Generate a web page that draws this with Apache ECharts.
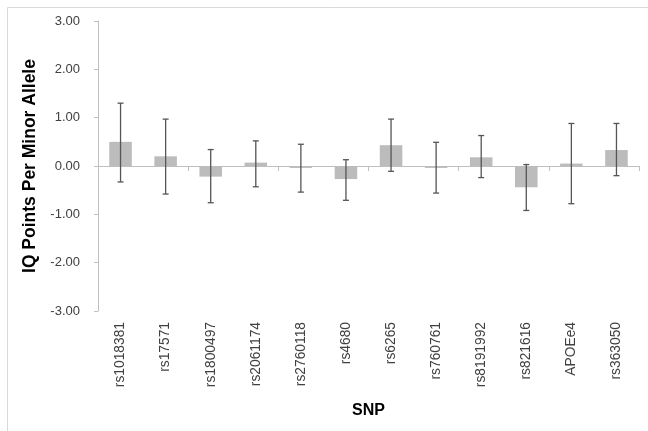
<!DOCTYPE html>
<html>
<head>
<meta charset="utf-8">
<script src="https://cdn.jsdelivr.net/npm/echarts@6/dist/echarts.min.js"></script>
<style>
  html, body { margin: 0; padding: 0; background: #fff; }
  #chart { width: 648px; height: 431px; }
</style>
</head>
<body>
<div id="chart"></div>
<script>
const snps = ['rs1018381', 'rs17571', 'rs1800497', 'rs2061174', 'rs2760118', 'rs4680',
    'rs6265', 'rs760761', 'rs8191992', 'rs821616', 'APOEe4', 'rs363050'];
const effect = [0.50, 0.20, -0.22, 0.07, -0.04, -0.27, 0.43, -0.04, 0.18, -0.44, 0.05, 0.33];
const ciLow = [-0.33, -0.58, -0.76, -0.43, -0.54, -0.71, -0.11, -0.56, -0.24, -0.92, -0.78, -0.20];
const ciHigh = [1.30, 0.97, 0.34, 0.52, 0.45, 0.13, 0.97, 0.49, 0.63, 0.03, 0.88, 0.88];
const yTicks = [-3, 3, 1]; // min, max, step

const chart = echarts.init(document.getElementById('chart'));

const axisColor = '#bfbfbf';
const textColor = '#404040';
const font = 'Liberation Sans';

const option = {
    animation: false,
    backgroundColor: '#fff',
    graphic: [{
        type: 'rect',
        shape: { x: 7.5, y: 7.5, width: 700, height: 500 },
        style: { fill: null, stroke: '#d9d9d9', lineWidth: 1 },
        silent: true
    }],
    grid: { left: 98, right: 9, top: 21, bottom: 120 },
    xAxis: [{
        type: 'category',
        data: snps,
        axisLine: { onZero: true, lineStyle: { color: axisColor, width: 1 } },
        axisTick: { show: true, alignWithLabel: false, length: 5, lineStyle: { color: axisColor } },
        axisLabel: { show: false }
    }, {
        type: 'category',
        data: snps,
        position: 'bottom',
        axisLine: { show: false },
        axisTick: { show: false },
        axisLabel: {
            rotate: 90, margin: 11, fontSize: 13.8, color: textColor,
            fontFamily: font, interval: 0
        },
        name: 'SNP',
        nameLocation: 'middle',
        nameGap: 92,
        nameTextStyle: { fontSize: 16, fontWeight: 'bold', color: '#000', fontFamily: font }
    }],
    yAxis: {
        type: 'value',
        min: yTicks[0],
        max: yTicks[1],
        interval: yTicks[2],
        name: 'IQ Points Per Minor Allele',
        nameLocation: 'middle',
        nameGap: 56,
        nameTextStyle: { fontSize: 17.5, fontWeight: 'bold', color: '#000', fontFamily: font },
        axisLine: { show: true, lineStyle: { color: axisColor } },
        axisTick: { show: true, length: 4, lineStyle: { color: axisColor } },
        splitLine: { show: false },
        axisLabel: {
            margin: 18, fontSize: 13, color: textColor, fontFamily: font,
            formatter: v => v.toFixed(2)
        }
    },
    series: [{
        type: 'bar',
        data: effect,
        barWidth: '50%',
        itemStyle: { color: '#bcbcbc' },
        z: 2
    }, {
        type: 'custom',
        data: snps.map((s, i) => [i, ciLow[i], ciHigh[i]]),
        z: 3,
        renderItem: function (params, api) {
            const lo = api.coord([api.value(0), api.value(1)]);
            const hi = api.coord([api.value(0), api.value(2)]);
            const cap = 3;
            const style = { stroke: '#555555', lineWidth: 1.3 };
            return {
                type: 'group',
                children: [
                    { type: 'line', shape: { x1: hi[0], y1: hi[1], x2: lo[0], y2: lo[1] }, style: style },
                    { type: 'line', shape: { x1: hi[0] - cap, y1: hi[1], x2: hi[0] + cap, y2: hi[1] }, style: style },
                    { type: 'line', shape: { x1: lo[0] - cap, y1: lo[1], x2: lo[0] + cap, y2: lo[1] }, style: style }
                ]
            };
        }
    }]
};

chart.setOption(option);
</script>
</body>
</html>
